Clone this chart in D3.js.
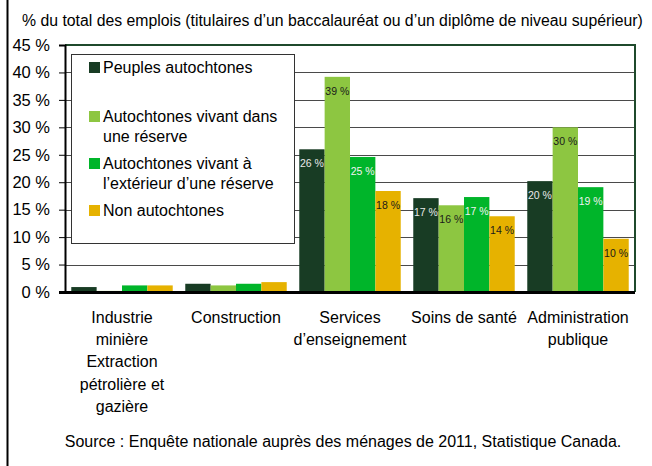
<!DOCTYPE html>
<html>
<head>
<meta charset="utf-8">
<script src="https://cdn.jsdelivr.net/npm/d3@7"></script>
<style>
  body { margin: 0; background: #fff; }
  svg { display: block; font-family: 'Liberation Sans', Arial, sans-serif; }
</style>
</head>
<body>
<div id="chart"></div>
<script>
const categories = [
  ['Industrie', 'minière', 'Extraction', 'pétrolière et', 'gazière'],
  ['Construction'],
  ['Services', 'd’enseignement'],
  ['Soins de santé'],
  ['Administration', 'publique']
]
const seriesNames = [
  ['Peuples autochtones'],
  ['Autochtones vivant dans', 'une réserve'],
  ['Autochtones vivant à', 'l’extérieur d’une réserve'],
  ['Non autochtones']
]
const peuples = [0.9, 1.5, 26.0, 17.1, 20.2]
const reserve = [0.2, 1.2, 39.2, 15.8, 30.0]
const exterieur = [1.2, 1.5, 24.6, 17.3, 19.1]
const nonAutochtones = [1.2, 1.8, 18.4, 13.8, 9.7]
const valueLabels = [
  [null, null, '26 %', '17 %', '20 %'],
  [null, null, '39 %', '16 %', '30 %'],
  [null, null, '25 %', '17 %', '19 %'],
  [null, null, '18 %', '14 %', '10 %']
]
const yTicks = [0, 5, 10, 15, 20, 25, 30, 35, 40, 45]

const colors = ['#183c24', '#8dc641', '#00b52a', '#e6b200']
const labelColors = ['#e8e8e8', '#1a1a1a', '#f2f2f2', '#1a1a1a']
const series = [peuples, reserve, exterieur, nonAutochtones]

const width = 652, height = 466
const mLeft = 65, mRight = 635, mTop = 45, mBottom = 292

const svg = d3.select('#chart').append('svg')
  .attr('width', width)
  .attr('height', height)

// left border of the frame
svg.append('line')
  .attr('x1', 7.5).attr('x2', 7.5)
  .attr('y1', 0).attr('y2', height)
  .attr('stroke', '#000').attr('stroke-width', 2)

svg.append('text')
  .attr('x', 22).attr('y', 26)
  .attr('font-size', 15.8)
  .attr('fill', '#000')
  .text('% du total des emplois (titulaires d’un baccalauréat ou d’un diplôme de niveau supérieur)')

const y = d3.scaleLinear().domain([0, 45]).range([mBottom, mTop])
const x0 = d3.scaleBand().domain(d3.range(categories.length)).range([mLeft, mRight]).paddingInner(0.11).paddingOuter(0.055)
const x1 = d3.scaleBand().domain(d3.range(series.length)).range([0, x0.bandwidth()])

// gridlines
svg.append('g')
  .selectAll('line')
  .data(yTicks.filter((d) => d > 0 && d < 45))
  .enter()
  .append('line')
  .attr('x1', mLeft).attr('x2', mRight)
  .attr('y1', (d) => Math.round(y(d)) + 0.5)
  .attr('y2', (d) => Math.round(y(d)) + 0.5)
  .attr('stroke', '#4a4a4a')
  .attr('stroke-width', 1)

// top and right border of the plot area
svg.append('path')
  .attr('d', `M${mLeft},${y(45)}H${mRight}V${mBottom}`)
  .attr('fill', 'none')
  .attr('stroke', '#1f4a2c')
  .attr('stroke-width', 2)

// bars
series.forEach((vals, s) => {
  const pts = vals.map((v, i) => ({ i: i, v: v, label: valueLabels[s][i] }))
  const g = svg.append('g')
  g.selectAll('rect')
    .data(pts)
    .enter()
    .append('rect')
    .attr('x', (d) => x0(d.i) + x1(s))
    .attr('y', (d) => y(d.v))
    .attr('width', x1.bandwidth())
    .attr('height', (d) => y(0) - y(d.v))
    .attr('fill', colors[s])

  g.selectAll('text')
    .data(pts.filter((d) => d.label))
    .enter()
    .append('text')
    .attr('x', (d) => x0(d.i) + x1(s) + x1.bandwidth() / 2)
    .attr('y', (d) => y(d.v) + 18)
    .attr('text-anchor', 'middle')
    .attr('font-size', 10.5)
    .attr('fill', labelColors[s])
    .text((d) => d.label)
})

// y axis
const yAxis = d3.axisLeft(y)
  .tickValues(yTicks)
  .tickSize(6)
  .tickFormat((d) => d + ' %')
const ga = svg.append('g')
  .attr('transform', `translate(${mLeft},0)`)
  .call(yAxis)
ga.select('.domain').attr('stroke', '#000').attr('stroke-width', 2)
ga.selectAll('.tick line').attr('stroke', '#000')
ga.selectAll('.tick text')
  .attr('x', -15)
  .attr('font-size', 16.5)
  .attr('font-family', 'Liberation Sans, Arial, sans-serif')
  .attr('fill', '#000')

// x axis line
svg.append('line')
  .attr('x1', mLeft - 6).attr('x2', mRight)
  .attr('y1', mBottom + 0.5).attr('y2', mBottom + 0.5)
  .attr('stroke', '#000').attr('stroke-width', 3)

// category labels
const cat = svg.append('g')
  .selectAll('text')
  .data(categories)
  .enter()
  .append('text')
  .attr('text-anchor', 'middle')
  .attr('font-size', 16)
  .attr('fill', '#000')
cat.each(function (lines, i) {
  d3.select(this).selectAll('tspan')
    .data(lines)
    .enter()
    .append('tspan')
    .attr('x', x0(i) + x0.bandwidth() / 2)
    .attr('y', (d, k) => 323 + k * 22.2)
    .text((d) => d)
})

// legend
const legend = svg.append('g')
legend.append('rect')
  .attr('x', 71.5).attr('y', 54.5)
  .attr('width', 223).attr('height', 189)
  .attr('fill', '#fff')
  .attr('stroke', '#333')
  .attr('stroke-width', 1)
const legendY = [67, 116, 163, 210]
seriesNames.forEach((lines, s) => {
  legend.append('rect')
    .attr('x', 89).attr('y', legendY[s] - 5)
    .attr('width', 11).attr('height', 11)
    .attr('fill', colors[s])
  legend.append('text')
    .attr('font-size', 16)
    .attr('fill', '#000')
    .selectAll('tspan')
    .data(lines)
    .enter()
    .append('tspan')
    .attr('x', 103)
    .attr('y', (d, k) => legendY[s] + 6 + k * 20)
    .text((d) => d)
})

svg.append('text')
  .attr('x', 343).attr('y', 447)
  .attr('text-anchor', 'middle')
  .attr('font-size', 16)
  .attr('fill', '#000')
  .text('Source : Enquête nationale auprès des ménages de 2011, Statistique Canada.')
</script>
</body>
</html>
